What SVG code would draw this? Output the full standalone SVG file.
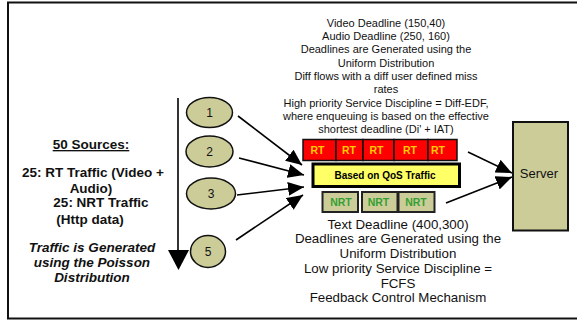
<svg xmlns="http://www.w3.org/2000/svg" width="577" height="320" viewBox="0 0 577 320">
<style>
  .t { font-family: "Liberation Sans", Arial, sans-serif; fill: #111; }
  .up { font-size: 11px; text-anchor: middle; }
  .lo { font-size: 13.3px; text-anchor: middle; }
  .lb { font-size: 13.5px; font-weight: bold; text-anchor: middle; }
  .li { font-size: 13.5px; font-weight: bold; font-style: italic; text-anchor: middle; }
  .num { font-size: 12px; text-anchor: middle; }
  .src { fill: #CCCC99; stroke: #111; stroke-width: 1.5; }
  .rt { fill: #FF0000; stroke: #111; stroke-width: 1.5; }
  .rtt { font-family: "Liberation Sans", Arial, sans-serif; font-size: 10.5px; font-weight: bold; fill: #FFCC00; text-anchor: middle; }
  .nrt { fill: #CCCC99; stroke: #222; stroke-width: 2; }
  .nrtt { font-family: "Liberation Sans", Arial, sans-serif; font-size: 10.5px; font-weight: bold; fill: #33A033; text-anchor: middle; }
  .conn { stroke: #000; stroke-width: 1.6; fill: none; marker-end: url(#ah); }
</style>
<defs>
  <marker id="ah" viewBox="0 0 16 14" refX="16" refY="7" markerWidth="16" markerHeight="14" markerUnits="userSpaceOnUse" orient="auto">
    <path d="M0,0 L16,7 L0,14 Z" fill="#000"/>
  </marker>
</defs>
<rect x="0" y="0" width="577" height="320" fill="#fff"/>
<rect id="frame" x="8" y="2.5" width="580" height="316" fill="none" stroke="#111" stroke-width="2"/>

<g id="left-text">
  <text class="t lb" x="91" y="149" text-decoration="underline">50 Sources:</text>
  <text class="t lb" x="93" y="177">25: RT Traffic (Video +</text>
  <text class="t lb" x="91" y="193">Audio)</text>
  <text class="t lb" x="101" y="207">25: NRT Traffic</text>
  <text class="t lb" x="90" y="224">(Http data)</text>
  <text class="t li" x="92" y="251.5">Traffic is Generated</text>
  <text class="t li" x="92" y="266.5">using the Poisson</text>
  <text class="t li" x="92" y="281.5">Distribution</text>
</g>

<g id="time-arrow">
  <line x1="178" y1="98" x2="178" y2="252" stroke="#000" stroke-width="1.6"/>
  <path d="M168,250 L189,250 L178.5,270 Z" fill="#000"/>
</g>

<g id="source-1"><ellipse class="src" cx="209.5" cy="112.5" rx="23" ry="15"/><text class="t num" x="209.5" y="117">1</text></g>
<g id="source-2"><ellipse class="src" cx="209.5" cy="151.5" rx="23.5" ry="15.5"/><text class="t num" x="209.5" y="156">2</text></g>
<g id="source-3"><ellipse class="src" cx="211" cy="193.5" rx="24.5" ry="15.5"/><text class="t num" x="211" y="198">3</text></g>
<g id="source-5"><ellipse class="src" cx="208" cy="251.5" rx="17.5" ry="16"/><text class="t num" x="208" y="256">5</text></g>

<g id="top-text">
  <text class="t up" x="386" y="26.7">Video Deadline (150,40)</text>
  <text class="t up" x="386" y="40">Audio Deadline (250, 160)</text>
  <text class="t up" x="386" y="53.3">Deadlines are Generated using the</text>
  <text class="t up" x="386" y="66.7">Uniform Distribution</text>
  <text class="t up" x="386" y="80">Diff flows with a diff user defined miss</text>
  <text class="t up" x="386" y="93.3">rates</text>
  <text class="t up" x="386" y="106.7">High priority Service Discipline = Diff-EDF,</text>
  <text class="t up" x="386" y="120">where enqueuing is based on the effective</text>
  <text class="t up" x="386" y="132.5">shortest deadline (Di' + IAT)</text>
</g>

<g id="rt-queue">
  <rect class="rt" x="303" y="139.5" width="33" height="21"/>
  <rect class="rt" x="336" y="139.5" width="27" height="21"/>
  <rect class="rt" x="363" y="139.5" width="31" height="21"/>
  <rect class="rt" x="394" y="139.5" width="34" height="21"/>
  <rect class="rt" x="428" y="139.5" width="29" height="21"/>
  <text class="rtt" x="317.5" y="154">RT</text>
  <text class="rtt" x="349" y="154">RT</text>
  <text class="rtt" x="376.5" y="154">RT</text>
  <text class="rtt" x="410" y="154">RT</text>
  <text class="rtt" x="438" y="154">RT</text>
</g>

<g id="qos-box">
  <rect x="313" y="164" width="146.5" height="22.5" fill="#FFFF66" stroke="#000" stroke-width="3"/>
  <text x="385" y="178.5" font-family="Liberation Sans, Arial, sans-serif" font-size="10px" font-weight="bold" fill="#000" text-anchor="middle">Based on QoS Traffic</text>
</g>

<g id="nrt-queue">
  <rect class="nrt" x="322.5" y="192" width="35.5" height="20"/>
  <rect class="nrt" x="362" y="192" width="35.5" height="20"/>
  <rect class="nrt" x="398.5" y="192" width="36" height="20"/>
  <text class="nrtt" x="341" y="205.5">NRT</text>
  <text class="nrtt" x="378.5" y="205.5">NRT</text>
  <text class="nrtt" x="416" y="205.5">NRT</text>
</g>

<g id="server">
  <rect x="513" y="122" width="55" height="108.5" fill="#CCCC99" stroke="#111" stroke-width="2"/>
  <text class="t" x="539" y="178" font-size="13px" text-anchor="middle">Server</text>
</g>

<g id="bottom-text">
  <text class="t lo" x="398" y="229">Text Deadline (400,300)</text>
  <text class="t lo" x="398" y="243">Deadlines are Generated using the</text>
  <text class="t lo" x="398" y="257.5">Uniform Distribution</text>
  <text class="t lo" x="398" y="272.5">Low priority Service Discipline =</text>
  <text class="t lo" x="398" y="287.5">FCFS</text>
  <text class="t lo" x="398" y="302">Feedback Control Mechanism</text>
</g>

<g id="connectors">
  <line class="conn" x1="238" y1="116" x2="302" y2="165"/>
  <line class="conn" x1="239" y1="158" x2="304" y2="175"/>
  <line class="conn" x1="237" y1="195" x2="304" y2="187"/>
  <line class="conn" x1="236" y1="240" x2="303" y2="195"/>
  <line class="conn" x1="468" y1="152" x2="512" y2="173"/>
  <line class="conn" x1="446" y1="203" x2="512" y2="177"/>
</g>
</svg>
